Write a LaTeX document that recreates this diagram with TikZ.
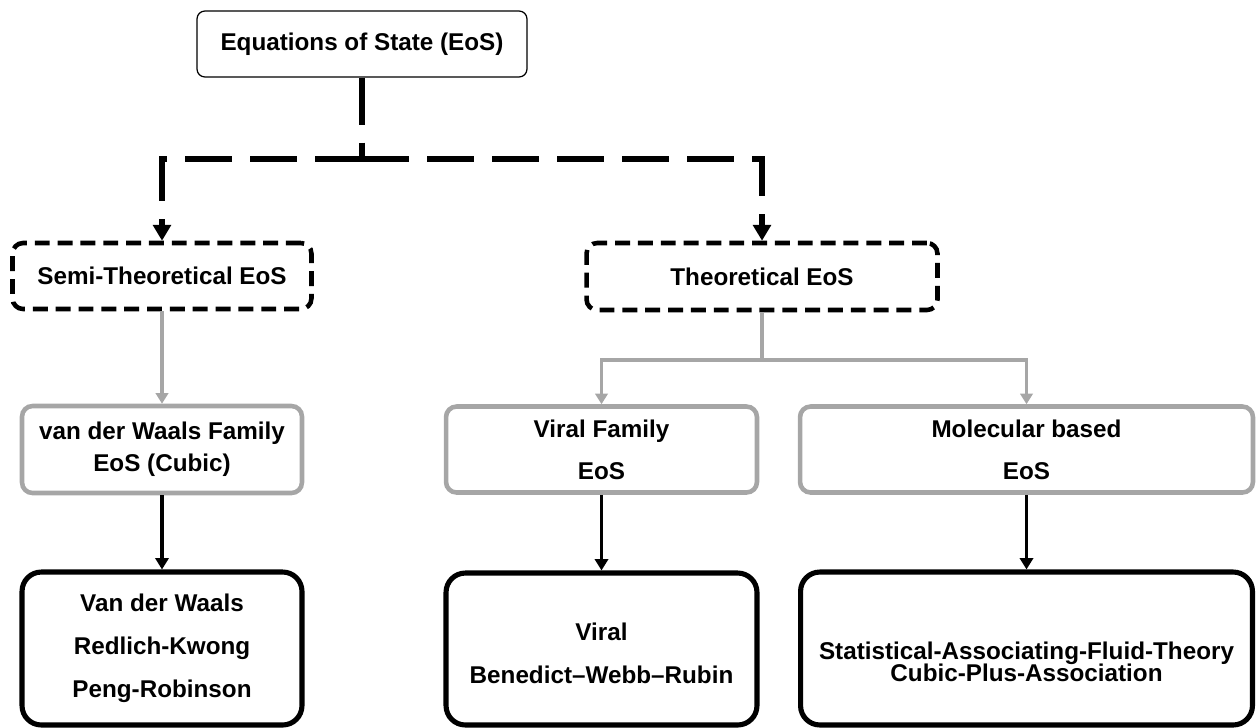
\documentclass[tikz,border=0pt]{standalone}
\usepackage{fontspec}
\setmainfont{Liberation Sans}
\usetikzlibrary{arrows.meta}
\definecolor{famgray}{HTML}{A6A6A6}
\begin{document}
\begin{tikzpicture}[x=0.02cm, y=-0.02cm,
lbl/.style={font=\fontsize{13.8}{16}\selectfont\bfseries, align=center, inner sep=0pt},
topbox/.style={lbl, draw, line width=0.7pt, rounded corners=4.5pt},
classbox/.style={lbl, draw, line width=2.6pt, dash pattern=on 8.5pt off 4.5pt, rounded corners=6pt},
fambox/.style={lbl, draw=famgray, line width=2.6pt, rounded corners=6pt},
eosbox/.style={lbl, draw, line width=2.9pt, rounded corners=11pt},
trunk/.style={line width=3.8pt, dash pattern=on 27pt off 10pt},
trunkarrow/.style={trunk, -{Triangle[length=9pt, width=10pt]}},
famline/.style={famgray, line width=1.9pt, -{Triangle[length=6pt, width=7pt]}},
eosline/.style={line width=2pt, -{Triangle[length=6.5pt, width=7.5pt]}}]
\useasboundingbox (0,0) rectangle (1256,727);
\node[topbox, minimum width=6.6cm, minimum height=1.32cm] (eos) at (362,44) {Equations of State (EoS)};
\node[classbox, minimum width=5.98cm, minimum height=1.32cm] (semi) at (162,276) {Semi-Theoretical EoS};
\node[classbox, minimum width=7.02cm, minimum height=1.34cm] (theo) at (762,276.5) {Theoretical EoS};
\coordinate (split) at (362,159);
\draw[trunk] (eos.south) -- (split);
\draw[trunkarrow] (split) -| (semi.north);
\draw[trunkarrow] (split) -| (theo.north);
\node[fambox, minimum width=5.6cm, minimum height=1.74cm] (vdwfam) at (162,449.5) {van der Waals Family\\[2pt] EoS (Cubic)};
\node[fambox, minimum width=6.22cm, minimum height=1.72cm] (virfam) at (601.5,449.5) {Viral Family\\[8pt] EoS};
\node[fambox, minimum width=9.06cm, minimum height=1.72cm] (molfam) at (1026.5,449.5) {Molecular based\\[8pt] EoS};
\coordinate (famsplit) at (762,360);
\draw[famline] (semi.south) -- (vdwfam.north);
\draw[famline, -] (theo.south) -- (famsplit);
\draw[famline] (famsplit) -| (virfam.north);
\draw[famline] (famsplit) -| (molfam.north);
\node[eosbox, minimum width=5.6cm, minimum height=3.06cm] (cubiceos) at (162,648.5) {Van der Waals\\[8.5pt] Redlich-Kwong\\[8.5pt] Peng-Robinson};
\node[eosbox, minimum width=6.22cm, minimum height=3.04cm] (viraleos) at (601.5,649) {\rule{0pt}{15pt}Viral\\[8pt] Benedict--Webb--Rubin};
\node[eosbox, minimum width=9.04cm, minimum height=3.06cm] (saft) at (1026.5,648.5) {\rule{0pt}{25pt}Statistical-Associating-Fluid-Theory\\[-3.5pt] Cubic-Plus-Association};
\draw[eosline] (vdwfam.south) -- (cubiceos.north);
\draw[eosline] (virfam.south) -- (viraleos.north);
\draw[eosline] (molfam.south) -- (saft.north);
\end{tikzpicture}
\end{document}
